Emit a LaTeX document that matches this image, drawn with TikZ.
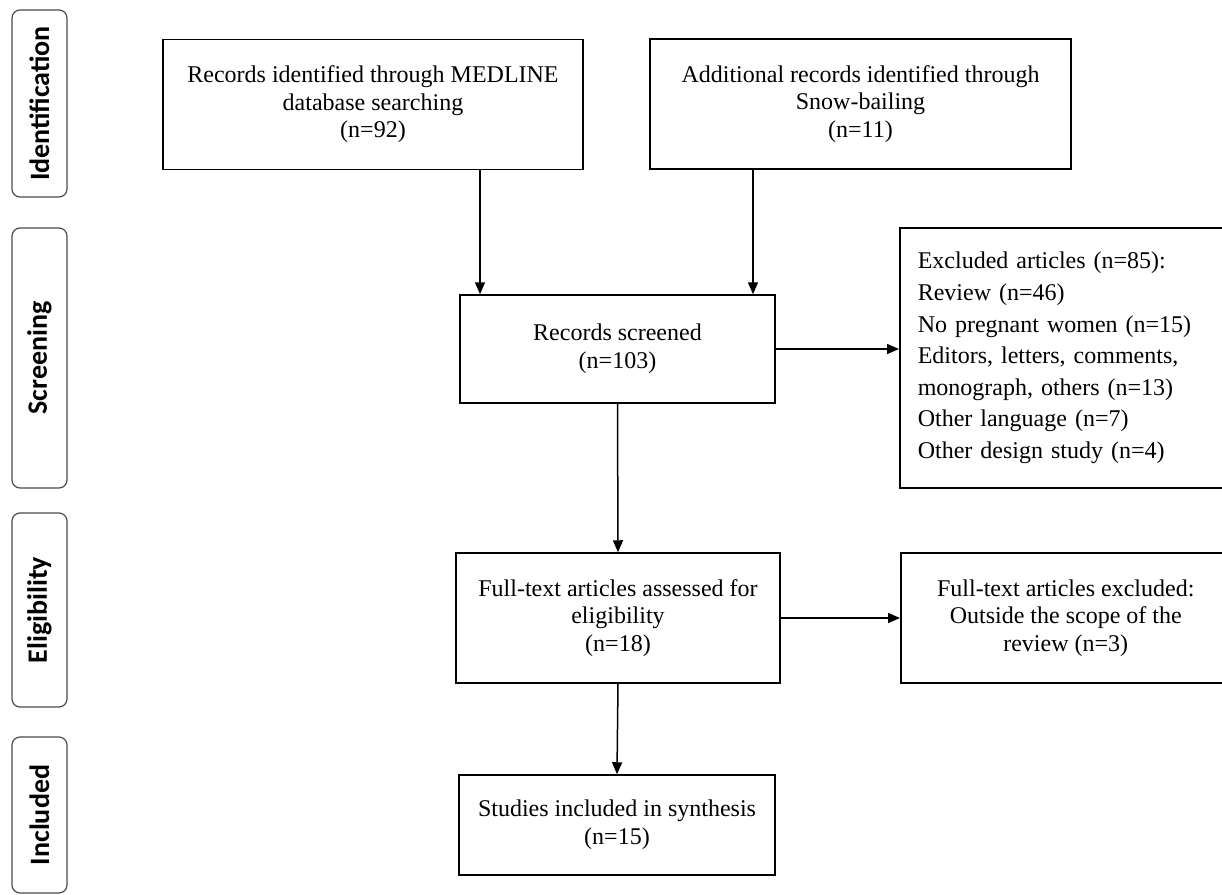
\documentclass[tikz,border=0pt]{standalone}
\usepackage{fontspec}
\setmainfont{Liberation Serif}
\newfontfamily\stagefont{Carlito}
\usetikzlibrary{arrows.meta,positioning}
\tikzset{
    -{Triangle[width=5pt,length=6pt]},semithick,
    box/.style ={rectangle, draw, line width=0.75pt, align=center, inner sep=0pt,
        font=\fontsize{12}{13.8}\selectfont},
    sidebox/.style ={rectangle, draw, line width=0.75pt, align=left, inner xsep=9pt,
        text width=150pt, font=\fontsize{12}{15.8}\selectfont},
    stage/.style ={rectangle, rounded corners=4pt, draw=black!70, line width=0.6pt,
        rotate=90, minimum height=27.5pt, inner sep=0pt,
        font=\stagefont\bfseries\fontsize{14}{16}\selectfont},
    arr/.style = {line width=0.75pt}
}

\begin{document}
\begin{tikzpicture}[x=0.5pt,y=-0.5pt]
\useasboundingbox[fill=white] (0,0) rectangle (1222,895);

% Stage labels
\node[stage, minimum width=93.5pt] (ident) at (39.5,103.5) {Identification};
\node[stage, minimum width=130pt] (scrn) at (39.5,358) {Screening};
\node[stage, minimum width=97pt] (elig) at (39.5,610) {Eligibility};
\node[stage, minimum width=78pt] (incl) at (39.5,815) {Included};

% Nodes
\node[box, minimum width=210pt, minimum height=65pt] (med) at (373,104.5)
{Records identified through MEDLINE\\ database searching\\ (n=92)};
\node[box, minimum width=210.5pt, minimum height=65pt] (snow) at (860.5,104)
{Additional records identified through\\ Snow-bailing\\ (n=11)};
\node[box, minimum width=157.5pt, minimum height=54pt] (scr) at (617.5,349)
{Records screened\\ (n=103)};
\node[sidebox, minimum height=130pt, anchor=west] (excl) at (899,358)
{Excluded articles (n=85):\\ Review (n=46)\\ No pregnant women (n=15)\\
Editors, letters, comments,\\ monograph, others (n=13)\\ Other language (n=7)\\
Other design study (n=4)};
\node[box, minimum width=162pt, minimum height=65pt] (full) at (618,618)
{Full-text articles assessed for\\ eligibility\\ (n=18)};
\node[box, minimum width=165pt, minimum height=65pt, anchor=west] (ftexcl) at (900,618)
{Full-text articles excluded:\\ Outside the scope of the\\ review (n=3)};
\node[box, minimum width=158pt, minimum height=50pt] (stud) at (617,825)
{Studies included in synthesis\\ (n=15)};

% Arrows
\coordinate (medx) at (480,0);
\coordinate (snowx) at (753,0);
\draw[arr] (med.south -| medx) -- (scr.north -| medx);
\draw[arr] (snow.south -| snowx) -- (scr.north -| snowx);
\draw[arr] (scr.east) -- (scr.east -| excl.west);
\draw[arr] (scr.south) -- (full.north);
\draw[arr] (full.east) -- (full.east -| ftexcl.west);
\draw[arr] (full.south) -- (stud.north);
\end{tikzpicture}
\end{document}
